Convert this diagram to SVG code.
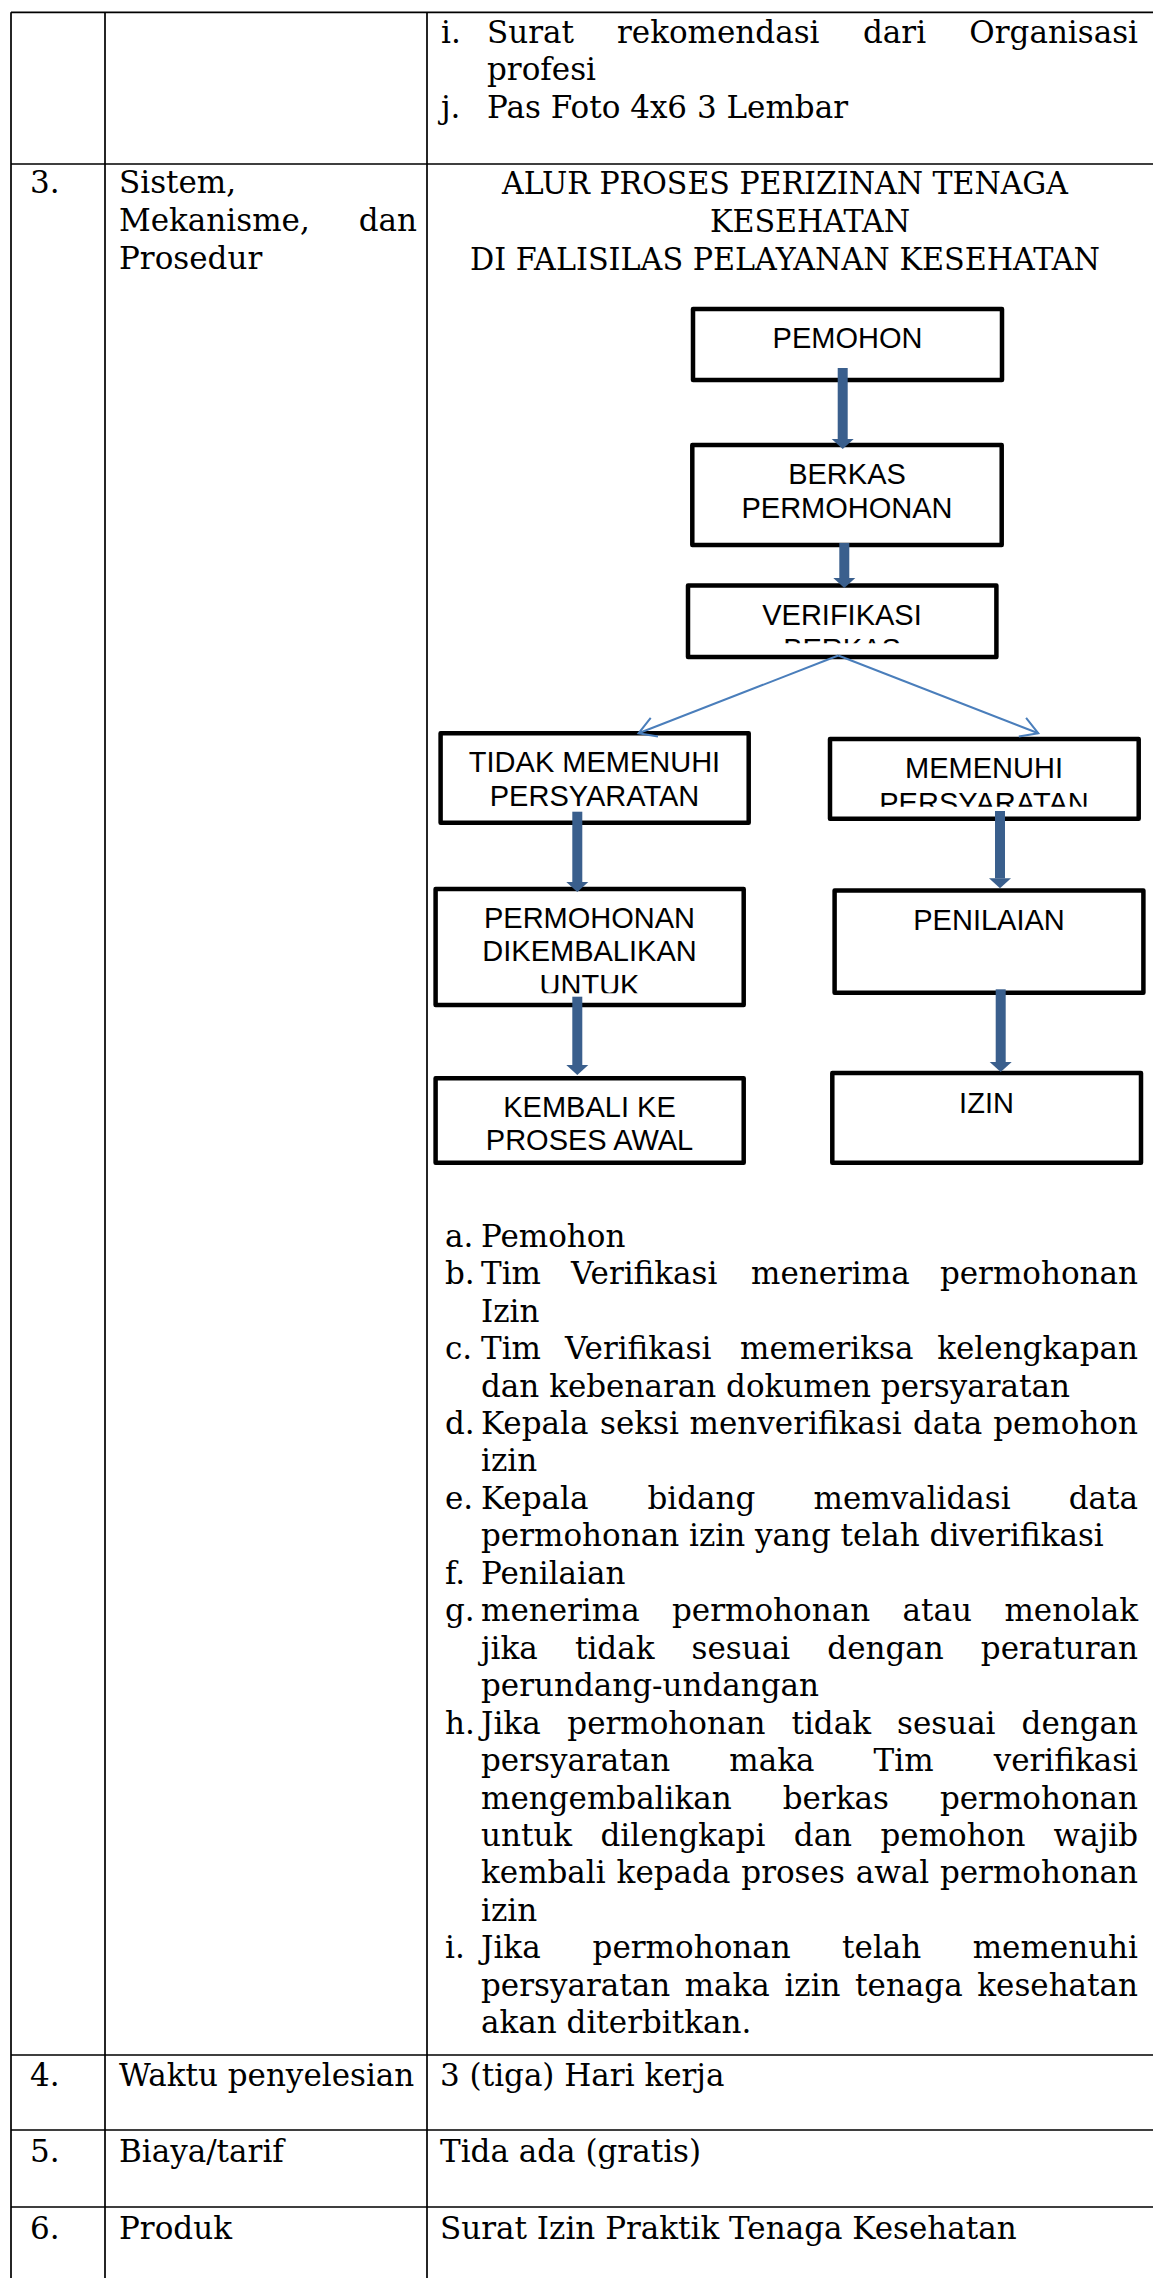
<svg xmlns="http://www.w3.org/2000/svg" width="1153" height="2278" viewBox="0 0 1153 2278">
<defs>
<style>
.tl{stroke:#000;stroke-width:1.7;fill:none}
.t{font-family:"DejaVu Serif","Liberation Serif",serif;font-size:31px;fill:#000}
.e{text-anchor:end}
.m{text-anchor:middle}
.box{fill:#fff;stroke:#000;stroke-width:4.5;stroke-linejoin:round}
.bt{font-family:"Liberation Sans",Arial,sans-serif;font-size:29px;text-anchor:middle;fill:#000}
.thick{stroke:#3A5F8D;stroke-width:10;fill:none;marker-end:url(#hd)}
.thin{stroke:#4A7EBB;stroke-width:2;fill:none;marker-end:url(#op)}
</style>
<marker id="hd" markerUnits="userSpaceOnUse" markerWidth="12" markerHeight="24" viewBox="0 -12 12 24" refX="0" refY="0" orient="auto"><path d="M0,-11 L10,0 L0,11 z" fill="#3A5F8D"/></marker>
<marker id="op" markerUnits="userSpaceOnUse" markerWidth="22" markerHeight="26" viewBox="-20 -13 22 26" refX="0" refY="0" orient="auto" overflow="visible"><path d="M-17,-10 L0,0 L-17,10" fill="none" stroke="#4A7EBB" stroke-width="2"/></marker>
<clipPath id="cv"><rect x="688" y="588" width="308" height="55.3"/></clipPath>
<clipPath id="cm"><rect x="830" y="741" width="308" height="65.7"/></clipPath>
<clipPath id="cd"><rect x="436" y="891" width="307" height="102.2"/></clipPath>
</defs>
<rect width="1153" height="2278" fill="#fff"/>
<g id="table">
<path class="tl" d="M11,12.3 H1153 M11,164 H1153 M11,2055 H1153 M11,2130 H1153 M11,2207 H1153 M11,12.3 V2278 M105,12.3 V2278 M427,12.3 V2278"/>
</g>
<g id="row-2">
<text class="t" y="42.7"><tspan x="441">i.</tspan><tspan x="487">Surat</tspan><tspan x="617">rekomendasi</tspan><tspan x="863">dari</tspan></text>
<text class="t e" x="1138" y="42.7">Organisasi</text>
<text class="t" x="487" y="80.4">profesi</text>
<text class="t" y="118.3"><tspan x="441">j.</tspan><tspan x="487">Pas Foto 4x6 3 Lembar</tspan></text>
</g>
<g id="row-3-label">
<text class="t" x="30" y="193">3.</text>
<text class="t" x="119" y="193">Sistem,</text>
<text class="t" x="119" y="231">Mekanisme,</text>
<text class="t e" x="417" y="231">dan</text>
<text class="t" x="119" y="269">Prosedur</text>
</g>
<g id="title">
<text class="t m" x="785" y="194" textLength="566" lengthAdjust="spacingAndGlyphs">ALUR PROSES PERIZINAN TENAGA</text>
<text class="t m" x="810" y="232" textLength="200" lengthAdjust="spacingAndGlyphs">KESEHATAN</text>
<text class="t m" x="785" y="269.5" textLength="630" lengthAdjust="spacingAndGlyphs">DI FALISILAS PELAYANAN KESEHATAN</text>
</g>
<g id="node-pemohon">
<rect class="box" x="693" y="309" width="309" height="71"/>
<text class="bt" x="847.5" y="348">PEMOHON</text>
</g>
<g id="node-berkas">
<rect class="box" x="692.3" y="445" width="309.4" height="100"/>
<text class="bt" x="847" y="484">BERKAS</text>
<text class="bt" x="847" y="518.3">PERMOHONAN</text>
</g>
<g id="node-verifikasi">
<rect class="box" x="688" y="585.6" width="308.4" height="71.4"/>
<g clip-path="url(#cv)">
<text class="bt" x="842" y="625">VERIFIKASI</text>
<text class="bt" x="842" y="659.3">BERKAS</text>
</g>
</g>
<g id="node-tidak">
<rect class="box" x="440.6" y="733.3" width="308.1" height="89.4"/>
<text class="bt" x="594.5" y="772.3">TIDAK MEMENUHI</text>
<text class="bt" x="594.5" y="806">PERSYARATAN</text>
</g>
<g id="node-memenuhi">
<rect class="box" x="830" y="739" width="308.7" height="79.7"/>
<g clip-path="url(#cm)">
<text class="bt" x="984" y="778.3">MEMENUHI</text>
<text class="bt" x="984" y="812.6">PERSYARATAN</text>
</g>
</g>
<g id="node-dikembalikan">
<rect class="box" x="435.6" y="889" width="308.1" height="116"/>
<g clip-path="url(#cd)">
<text class="bt" x="589.5" y="928">PERMOHONAN</text>
<text class="bt" x="589.5" y="961">DIKEMBALIKAN</text>
<text class="bt" x="589.5" y="994.5">UNTUK</text>
</g>
</g>
<g id="node-penilaian">
<rect class="box" x="834.6" y="890.6" width="308.8" height="102.1"/>
<text class="bt" x="989" y="930">PENILAIAN</text>
</g>
<g id="node-kembali">
<rect class="box" x="435.6" y="1078.3" width="308.1" height="84.4"/>
<text class="bt" x="589.5" y="1117.3">KEMBALI KE</text>
<text class="bt" x="589.5" y="1150">PROSES AWAL</text>
</g>
<g id="node-izin">
<rect class="box" x="832.3" y="1073" width="308.7" height="89.7"/>
<text class="bt" x="986.5" y="1112.7">IZIN</text>
</g>
<g id="connectors">
<path class="thick" d="M842.7,368 V439"/>
<path class="thick" d="M844.3,543 V578"/>
<path class="thick" d="M577.3,811.7 V882"/>
<path class="thick" d="M577.3,996.7 V1065"/>
<path class="thick" d="M1000,811 V878.3"/>
<path class="thick" d="M1000.7,989.3 V1062"/>
<path class="thin" d="M838.3,655.5 L638.5,733.3"/>
<path class="thin" d="M838.3,655.5 L1038.3,733.3"/>
</g>
<g id="steps">
<text class="t" y="1246.7"><tspan x="445">a.</tspan><tspan x="481">Pemohon</tspan></text>
<text class="t" y="1284.2"><tspan x="445">b.</tspan><tspan x="481">Tim</tspan><tspan x="571">Verifikasi</tspan><tspan x="751">menerima</tspan></text>
<text class="t e" x="1138" y="1284.2">permohonan</text>
<text class="t" x="481" y="1321.6">Izin</text>
<text class="t" y="1359.1"><tspan x="445">c.</tspan><tspan x="481">Tim</tspan><tspan x="565">Verifikasi</tspan><tspan x="740">memeriksa</tspan></text>
<text class="t e" x="1138" y="1359.1">kelengkapan</text>
<text class="t" x="481" y="1396.5">dan kebenaran dokumen persyaratan</text>
<text class="t" y="1434"><tspan x="445">d.</tspan><tspan x="481">Kepala</tspan><tspan x="600">seksi</tspan><tspan x="689.6">menverifikasi</tspan><tspan x="913">data</tspan></text>
<text class="t e" x="1138" y="1434">pemohon</text>
<text class="t" x="481" y="1471.4">izin</text>
<text class="t" y="1508.9"><tspan x="445">e.</tspan><tspan x="481">Kepala</tspan><tspan x="647.4">bidang</tspan><tspan x="813.5">memvalidasi</tspan></text>
<text class="t e" x="1138" y="1508.9">data</text>
<text class="t" x="481" y="1546.3">permohonan izin yang telah diverifikasi</text>
<text class="t" y="1583.8"><tspan x="445">f.</tspan><tspan x="481">Penilaian</tspan></text>
<text class="t" y="1621.2"><tspan x="445">g.</tspan><tspan x="481">menerima</tspan><tspan x="672">permohonan</tspan><tspan x="902.6">atau</tspan></text>
<text class="t e" x="1138" y="1621.2">menolak</text>
<text class="t" y="1658.7"><tspan x="481">jika</tspan><tspan x="575">tidak</tspan><tspan x="691.6">sesuai</tspan><tspan x="827.3">dengan</tspan></text>
<text class="t e" x="1138" y="1658.7">peraturan</text>
<text class="t" x="481" y="1696.1">perundang-undangan</text>
<text class="t" y="1733.6"><tspan x="445">h.</tspan><tspan x="481">Jika</tspan><tspan x="567.3">permohonan</tspan><tspan x="791.5">tidak</tspan><tspan x="897">sesuai</tspan></text>
<text class="t e" x="1138" y="1733.6">dengan</text>
<text class="t" y="1771"><tspan x="481">persyaratan</tspan><tspan x="729.3">maka</tspan><tspan x="873.6">Tim</tspan></text>
<text class="t e" x="1138" y="1771">verifikasi</text>
<text class="t" y="1808.5"><tspan x="481">mengembalikan</tspan><tspan x="782.7">berkas</tspan></text>
<text class="t e" x="1138" y="1808.5">permohonan</text>
<text class="t" y="1845.9"><tspan x="481">untuk</tspan><tspan x="600.5">dilengkapi</tspan><tspan x="793.8">dan</tspan><tspan x="880.5">pemohon</tspan></text>
<text class="t e" x="1138" y="1845.9">wajib</text>
<text class="t" y="1883.4"><tspan x="481">kembali</tspan><tspan x="616.6">kepada</tspan><tspan x="741.3">proses</tspan><tspan x="855.7">awal</tspan></text>
<text class="t e" x="1138" y="1883.4">permohonan</text>
<text class="t" x="481" y="1920.8">izin</text>
<text class="t" y="1958.3"><tspan x="445">i.</tspan><tspan x="481">Jika</tspan><tspan x="592.6">permohonan</tspan><tspan x="842.1">telah</tspan></text>
<text class="t e" x="1138" y="1958.3">memenuhi</text>
<text class="t" y="1995.7"><tspan x="481">persyaratan</tspan><tspan x="684.7">maka</tspan><tspan x="784.4">izin</tspan><tspan x="855.1">tenaga</tspan></text>
<text class="t e" x="1138" y="1995.7">kesehatan</text>
<text class="t" x="481" y="2033.2">akan diterbitkan.</text>
</g>
<g id="row-4">
<text class="t" x="30" y="2086">4.</text>
<text class="t" x="119" y="2086">Waktu penyelesian</text>
<text class="t" x="440" y="2086">3 (tiga) Hari kerja</text>
</g>
<g id="row-5">
<text class="t" x="30" y="2162">5.</text>
<text class="t" x="119" y="2162">Biaya/tarif</text>
<text class="t" x="440" y="2162">Tida ada (gratis)</text>
</g>
<g id="row-6">
<text class="t" x="30" y="2239">6.</text>
<text class="t" x="119" y="2239">Produk</text>
<text class="t" x="440" y="2239">Surat Izin Praktik Tenaga Kesehatan</text>
</g>
</svg>
